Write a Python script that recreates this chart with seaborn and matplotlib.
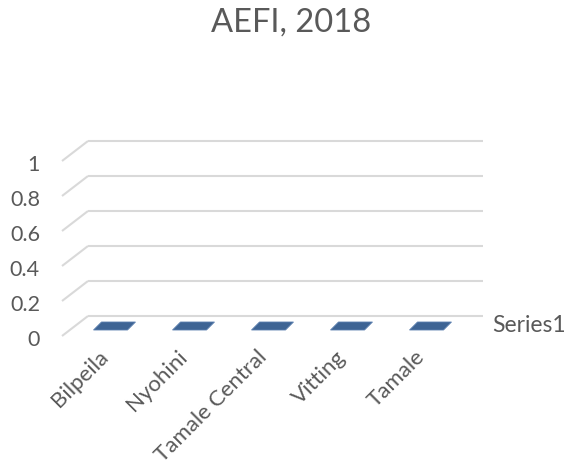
import matplotlib
matplotlib.use("Agg")
import matplotlib.pyplot as plt
from matplotlib.patches import Polygon
from matplotlib.transforms import ScaledTranslation
import seaborn as sns
import pandas as pd

# ---- data ----
categories = ["Bilpeila", "Nyohini", "Tamale Central", "Vitting", "Tamale"]
values = [0, 0, 0, 0, 0]
series_name = "Series1"
title = "AEFI, 2018"
yticks = [0, 0.2, 0.4, 0.6, 0.8, 1]
ytick_labels = ["0", "0.2", "0.4", "0.6", "0.8", "1"]

sns.set_theme(style="white")
plt.rcParams["font.family"] = ["Lato", "DejaVu Sans"]

TXT = "#595959"
GRID = "#D9D9D9"
BAR = "#3E6494"

W, H, DPI = 568, 470, 100
fig = plt.figure(figsize=(W / DPI, H / DPI), dpi=DPI)
fig.patch.set_facecolor("white")

# mid-depth plane of the pseudo-3D plot, in pixels
left_px, right_px, bot_px, top_px = 75, 470, 326, 151
ax = fig.add_axes([left_px / W, 1 - bot_px / H, (right_px - left_px) / W, (bot_px - top_px) / H])

df = pd.DataFrame({"cat": categories, "val": values})
sns.barplot(data=df, x="cat", y="val", color=BAR, width=0.43, ax=ax, saturation=1)

ax.set_xlim(-0.5, len(categories) - 0.5)
ax.set_ylim(0, 1)
for s in ax.spines.values():
    s.set_visible(False)
ax.set_xlabel("")
ax.set_ylabel("")

# depth offsets (half depth) in data units
px_x = (len(categories)) / (right_px - left_px)
px_y = 1.0 / (bot_px - top_px)
ddx, ddy = 13 * px_x, 10 * px_y
x0, x1 = ax.get_xlim()

# gridlines: back wall + left-side diagonals
for v in yticks:
    ax.plot([x0 + ddx, x1 + ddx], [v + ddy, v + ddy], color=GRID, lw=1.5,
            clip_on=False, zorder=0, solid_capstyle="butt")
    ax.plot([x0 - ddx, x0 + ddx], [v - ddy, v + ddy], color=GRID, lw=1.5,
            clip_on=False, zorder=0, solid_capstyle="butt")

# top faces of the (zero-height) bars as flat parallelograms
bdx, bdy = 4 * px_x, 4 * px_y
for p in ax.patches:
    bx, bw, bh = p.get_x(), p.get_width(), p.get_y() + p.get_height()
    verts = [(bx - bdx, bh - bdy), (bx + bw - bdx, bh - bdy),
             (bx + bw + bdx, bh + bdy), (bx + bdx, bh + bdy)]
    ax.add_patch(Polygon(verts, closed=True, facecolor=BAR, edgecolor="#5B7FAF",
                         lw=0.6, clip_on=False, zorder=3))

# y tick labels at front edge
ax.set_yticks(yticks)
ax.set_yticklabels(ytick_labels)
ax.tick_params(axis="y", length=0, pad=0, labelsize=15.5, labelcolor=TXT)
for lab in ax.get_yticklabels():
    lab.set_transform(lab.get_transform() + ScaledTranslation(-35 / DPI, -12 / DPI, fig.dpi_scale_trans))

# x tick labels rotated 45
ax.set_xticks(range(len(categories)))
ax.set_xticklabels(categories, rotation=45, ha="right", va="center", rotation_mode="anchor")
ax.tick_params(axis="x", length=0, pad=20, labelsize=16, labelcolor=TXT)
for lab in ax.get_xticklabels():
    lab.set_transform(lab.get_transform() + ScaledTranslation(-9 / DPI, 0, fig.dpi_scale_trans))

# depth-axis label
ax.text(x1 + ddx + 9 * px_x, 0, series_name, ha="left", va="center", fontsize=16.5, color=TXT,
        clip_on=False)

fig.text(291 / W, 1 - 23 / H, title, ha="center", va="center", fontsize=23.5, color=TXT)

fig.savefig("out.png", dpi=DPI, facecolor="white")
